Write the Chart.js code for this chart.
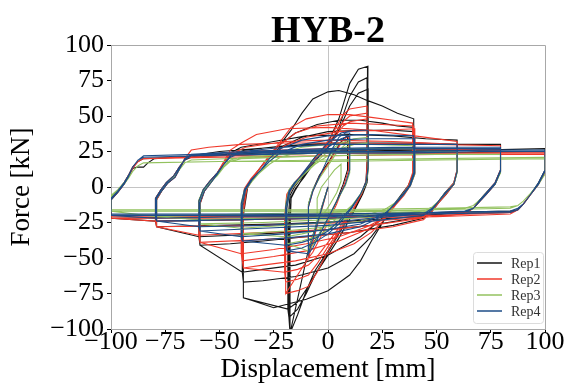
<!DOCTYPE html>
<html>
<head>
<meta charset="utf-8">
<script src="https://cdn.jsdelivr.net/npm/chart.js@4.4.1/dist/chart.umd.min.js"></script>
<style>
	html, body { margin: 0; padding: 0; background: #fff; }
	#chart { display: block; }
</style>
</head>
<body>
<canvas id="chart" width="570" height="391"></canvas>
<script>
// Axis ticks
const xTickValues = [-100, -75, -50, -25, 0, 25, 50, 75, 100];
const yTickValues = [-100, -75, -50, -25, 0, 25, 50, 75, 100];

const repNames = ["Rep1", "Rep2", "Rep3", "Rep4"];

// Rep1: one loop per line, [displacement mm, force kN]
const rep1Loops = [
	[[0,0],[-9,-44],[-9,-12],[-7,-2],[-4,8],[0,17],[4,27],[7,34],[9,36],[9,12],[7,2],[4,-10],[0,-22],[-4,-33],[-7,-40],[-9,-44]],
	[[-17.5,-103],[-17.5,-30],[-17,-8],[-15,-2],[-11,8],[-7,19],[0,31],[5,48],[10,73],[14,83],[18.4,85],[18.4,20],[18,5],[16,-3],[11.5,-17],[5.5,-31],[0,-45],[-6,-59],[-10,-73],[-14,-90],[-17.5,-103]],
	[[-18,-92],[-18,-28],[-17,-7],[-15,-1],[-11,7],[-6,18],[0,28],[5,42],[10,64],[14,74],[18,77],[18,18],[17.5,4],[15.5,-4],[11,-18],[5,-33],[0,-46],[-6,-62],[-10,-75],[-14,-86],[-18,-92]],
	[[-18.5,-86],[-18.5,-25],[-17.5,-6],[-15.5,0],[-11,9],[-6,19],[0,28],[5,40],[10,57],[14,66],[18.5,69],[18.5,16],[18,3],[16,-5],[11,-20],[5,-36],[0,-48],[-6,-62],[-10,-72],[-14,-81],[-18.5,-86]],
	[[-39,-78],[-39,-20],[-37,0],[-32,12],[-27,22],[-22,30],[-17,40],[-12,52],[-7,62],[0,67],[5,68],[12,65],[18,61],[25,57],[32,52],[39.5,48],[39.5,10],[37,1],[34,-5],[30,-13],[26,-23],[20,-38],[15,-52],[10,-62],[0,-73],[-10,-79],[-25,-85],[-35,-80],[-39,-78]],
	[[-39,-67],[-39,-18],[-37,0],[-32,12],[-27,22],[-22,30],[-15,38],[-5,44],[5,47],[15,47],[25,45],[32,43],[39.5,42],[39.5,8],[37,1],[34,-5],[30,-13],[26,-23],[20,-35],[12,-47],[0,-57],[-15,-63],[-30,-66],[-39,-67]],
	[[-39.5,-60],[-39.5,-16],[-37.5,0],[-33,10],[-28,20],[-22,28],[-12,35],[0,39],[15,40],[30,40],[39.5,39],[39.5,8],[37,1],[34,-5],[30,-13],[25,-22],[15,-35],[0,-48],[-15,-55],[-30,-58],[-39.5,-60]],
	[[-59,-41],[-59,-12],[-57,-3],[-54,3],[-51,9],[-48,17],[-45,24],[-40,28],[-25,32],[-10,36],[10,37],[30,36],[45,34],[59.5,33],[59.5,12],[58,3],[54,-4],[51,-10],[48,-17],[44,-22],[30,-27],[10,-32],[-10,-35],[-30,-38],[-45,-40],[-59,-41]],
	[[-59.5,-35],[-59.5,-10],[-57.5,-2],[-54.5,4],[-51,10],[-48,17],[-44,23],[-38,26],[-20,29],[0,31],[20,31],[40,31],[59.5,30],[59.5,11],[58,2],[54.5,-5],[51,-11],[48,-17],[43,-21],[20,-27],[0,-30],[-30,-33],[-59.5,-35]],
	[[-79,-28],[-79,-9],[-76.5,-2.5],[-74,2.5],[-70.5,7],[-68,14],[-66,19],[-63,22],[-50,25],[-25,28],[0,30],[30,30],[60,30],[79.5,30],[79.5,12],[77,3],[73,-4],[70,-9],[67,-15],[63,-18],[40,-21],[10,-24],[-20,-26],[-50,-27],[-79,-28]],
	[[-79.5,-24],[-79.5,-8],[-77,-2],[-74.5,3],[-71,8],[-68.5,14],[-66,19],[-63,21],[-40,24],[0,26],[40,27],[79.5,27],[79.5,11],[77,2],[73,-5],[70,-10],[67,-15],[63,-18],[30,-20],[0,-22],[-40,-23],[-79.5,-24]],
	[[-100,-22],[-100,-9],[-97,-4],[-94,2],[-92,7],[-90,13],[-88,14],[-85,14],[-83,17],[-80,20],[-60,22],[-30,24],[0,25],[40,26],[70,26],[100,27],[100,12],[97,3],[93,-6],[90,-12],[87.5,-16],[84,-18],[50,-19],[0,-21],[-50,-21],[-100,-22]],
	[[-100,-20],[-100,-8],[-97,-3],[-94,3],[-92,8],[-90,14],[-87.5,18],[-85,20],[-50,22],[0,24],[50,24],[100,25],[100,11],[97,2],[93,-6],[90,-12],[87.5,-16],[84,-17],[50,-18],[0,-19],[-50,-20],[-100,-20]],
];

const rep2Loops = [
	[[0,0],[-9,-50],[-9,-14],[-7,-3],[-4,7],[0,16],[4,26],[7,33],[9.5,36],[9.5,12],[7.5,2],[4,-12],[0,-25],[-4,-37],[-7,-46],[-9,-50]],
	[[-19.5,-75],[-19.5,-25],[-18.5,-6],[-16,0],[-12,8],[-7,18],[-2,28],[3,40],[7,51],[10,55],[14,56],[18,57],[18,16],[17.5,3],[15.5,-5],[11,-18],[5,-32],[0,-45],[-5,-60],[-9,-70],[-14,-73],[-19.5,-75]],
	[[-19.5,-67],[-19.5,-22],[-18.5,-5],[-16,1],[-12,9],[-7,18],[-2,27],[3,37],[7,46],[10,50],[14,51],[18,52],[18,15],[17.5,3],[15.5,-5],[11,-18],[5,-31],[0,-42],[-5,-54],[-9,-62],[-14,-65],[-19.5,-67]],
	[[-20,-60],[-20,-20],[-19,-5],[-16.5,1],[-12,9],[-7,17],[-2,26],[3,35],[7,43],[10,46],[14,47],[18,48],[18,14],[17.5,3],[15.5,-5],[11,-17],[5,-29],[0,-39],[-5,-49],[-9,-55],[-14,-58],[-20,-60]],
	[[-39,-57],[-39,-18],[-37.5,-2],[-35,5],[-31,14],[-27,22],[-22,32],[-17,42],[-10,48],[0,51],[10,51],[20,49],[30,47],[39,45],[39,10],[37,1],[34,-6],[30,-14],[26,-23],[20,-32],[12,-40],[0,-47],[-15,-52],[-30,-55],[-39,-57]],
	[[-39.5,-52],[-39.5,-16],[-38,-1],[-35,6],[-31,14],[-27,22],[-22,30],[-15,38],[-5,43],[10,45],[25,44],[39.5,43],[39.5,9],[37.5,1],[34.5,-6],[30.5,-14],[26,-22],[18,-30],[5,-38],[-10,-45],[-25,-49],[-39.5,-52]],
	[[-40,-47],[-40,-15],[-38.5,-1],[-35.5,6],[-31.5,13],[-27,21],[-20,29],[-10,35],[5,39],[25,40],[40,41],[40,9],[38,1],[35,-6],[31,-13],[27,-21],[18,-28],[5,-35],[-10,-40],[-25,-44],[-40,-47]],
	[[-59,-39],[-59,-12],[-57,-3],[-54,3],[-51,10],[-48,18],[-45,26],[-40,31],[-33,37],[-19,41],[0,42],[20,40],[40,36],[59.5,32],[59.5,12],[58,3],[54,-4],[51,-10],[48,-17],[44,-23],[30,-28],[10,-32],[-10,-35],[-30,-37],[-59,-39]],
	[[-59.5,-34],[-59.5,-10],[-57.5,-2],[-54.5,4],[-51,10],[-48,17],[-45,23],[-38,28],[-20,32],[0,33],[30,32],[59.5,30],[59.5,11],[58,2],[54.5,-5],[51,-11],[48,-17],[43,-22],[20,-27],[0,-30],[-30,-32],[-59.5,-34]],
	[[-79,-28],[-79,-9],[-76.5,-2.5],[-74,2.5],[-70.5,7],[-68,14],[-66,20],[-63,26],[-55,28],[-40,30],[-20,31],[10,31],[50,30],[79.5,29],[79.5,12],[77,3],[73,-4],[70,-9],[67,-15],[63,-19],[40,-22],[10,-25],[-30,-27],[-79,-28]],
	[[-79.5,-24],[-79.5,-8],[-77,-2],[-74.5,3],[-71,8],[-68.5,14],[-66,19],[-63,22],[-40,25],[0,27],[40,27],[79.5,26],[79.5,11],[77,2],[73,-5],[70,-10],[67,-15],[63,-18],[30,-20],[0,-22],[-40,-23],[-79.5,-24]],
	[[-100,-22],[-100,-9],[-97,-4],[-94,2],[-92,7],[-90,13],[-87.5,18],[-85,20],[-50,22],[0,24],[50,24],[100,24],[100,11],[97,2],[93,-6],[90,-12],[87.5,-16],[84,-19],[50,-21],[0,-22],[-50,-22],[-100,-22]],
	[[-100,-21],[-100,-8],[-97,-3],[-94,3],[-92,8],[-90,14],[-87.5,18],[-85,20],[-50,21],[0,22],[50,23],[100,23],[100,10],[97,2],[93,-6],[90,-12],[87.5,-16],[84,-18],[50,-20],[0,-21],[-50,-21],[-100,-21]],
];

const rep3Loops = [
	[[0,0],[-5,-25],[-5,-8],[-3,0],[0,6],[3,12],[6,16],[6,4],[4,-4],[1,-12],[-2,-19],[-5,-25]],
	[[-9,-45],[-9,-12],[-7,-2],[-4,6],[0,15],[4,24],[8,30],[10,32],[10,10],[8,1],[4,-10],[0,-22],[-4,-33],[-7,-41],[-9,-45]],
	[[-19,-40],[-19,-14],[-17.5,-3],[-15,2],[-11,9],[-6,17],[0,25],[6,31],[12,34],[18.5,35],[18.5,12],[17.5,2],[15,-5],[11,-14],[5,-24],[0,-30],[-6,-35],[-12,-38],[-19,-40]],
	[[-19.5,-35],[-19.5,-12],[-18,-2],[-15.5,3],[-11,9],[-6,16],[0,22],[6,27],[12,30],[18.5,31],[18.5,11],[17.5,2],[15,-5],[11,-13],[5,-21],[0,-27],[-6,-31],[-12,-33],[-19.5,-35]],
	[[-39.5,-33],[-39.5,-12],[-38,-2],[-35,4],[-31,11],[-27,18],[-22,24],[-12,28],[0,30],[20,30],[39.5,29],[39.5,9],[37.5,1],[34.5,-5],[30.5,-12],[26,-18],[15,-24],[0,-28],[-20,-31],[-39.5,-33]],
	[[-40,-29],[-40,-11],[-38.5,-2],[-35.5,4],[-31.5,10],[-27,16],[-22,21],[-12,25],[0,27],[20,27],[40,27],[40,9],[38,1],[35,-5],[31,-11],[26,-16],[15,-21],[0,-25],[-20,-27],[-40,-29]],
	[[-59,-26],[-59,-10],[-57,-2],[-54,3],[-51,9],[-48,15],[-45,19],[-40,21],[-20,23],[0,24],[30,25],[59.5,25],[59.5,10],[58,2],[54,-4],[51,-10],[48,-15],[44,-18],[20,-21],[0,-23],[-30,-25],[-59,-26]],
	[[-59.5,-23],[-59.5,-9],[-57.5,-2],[-54.5,3],[-51,8],[-48,14],[-45,18],[-40,20],[-20,21],[0,22],[30,23],[59.5,23],[59.5,10],[58,2],[54.5,-4],[51,-10],[48,-14],[44,-17],[20,-19],[0,-21],[-30,-22],[-59.5,-23]],
	[[-79,-21],[-79,-8],[-76.5,-2],[-74,3],[-70.5,8],[-68,13],[-66,17],[-63,19],[-30,21],[0,22],[40,23],[79.5,23],[79.5,10],[77,2],[73,-4],[70,-9],[67,-13],[63,-15],[30,-17],[0,-18],[-40,-19],[-79,-21]],
	[[-100,-17],[-100,-7],[-97,-3],[-94,2],[-92,6],[-90,11],[-87.5,15],[-85,17],[-50,18],[0,19],[50,20],[100,21],[100,9],[97,2],[93,-5],[90,-10],[87.5,-13],[84,-15],[50,-16],[0,-17],[-50,-17],[-100,-17]],
	[[-100,-16],[-100,-6],[-97,-2],[-94,3],[-92,7],[-90,11],[-87.5,15],[-85,17],[-50,18],[0,18],[50,19],[100,20],[100,9],[97,2],[93,-5],[90,-10],[87.5,-13],[84,-14],[50,-15],[0,-16],[-50,-16],[-100,-16]],
];

const rep4Loops = [
	[[0,0],[-9,-47],[-9,-14],[-7,-3],[-4,7],[-1,17],[2,27],[5,35],[8,38],[10,38],[10,12],[8,2],[4,-10],[0,-22],[-4,-34],[-7,-43],[-9,-47]],
	[[-19,-45],[-19,-15],[-17.5,-3],[-15,3],[-11,11],[-6,21],[0,31],[6,38],[12,40],[18.5,40],[18.5,14],[17.5,3],[15,-5],[11,-15],[5,-26],[0,-33],[-6,-39],[-12,-43],[-19,-45]],
	[[-19.5,-41],[-19.5,-14],[-18,-3],[-15.5,3],[-11,10],[-6,19],[0,28],[6,34],[12,37],[18.5,37],[18.5,13],[17.5,3],[15,-5],[11,-14],[5,-24],[0,-31],[-6,-36],[-12,-39],[-19.5,-41]],
	[[-39.5,-38],[-39.5,-13],[-38,-2],[-35,5],[-31,12],[-27,20],[-22,27],[-12,33],[0,36],[20,37],[39.5,36],[39.5,10],[37.5,1],[34.5,-5],[30.5,-12],[26,-20],[15,-28],[0,-33],[-20,-36],[-39.5,-38]],
	[[-40,-35],[-40,-12],[-38.5,-2],[-35.5,5],[-31.5,11],[-27,18],[-22,24],[-12,30],[0,33],[20,34],[40,34],[40,10],[38,1],[35,-5],[31,-12],[26,-19],[15,-26],[0,-30],[-20,-33],[-40,-35]],
	[[-59,-31],[-59,-11],[-57,-3],[-54,3],[-51,9],[-48,16],[-45,22],[-40,25],[-20,28],[0,30],[30,30],[59.5,30],[59.5,11],[58,2],[54,-4],[51,-10],[48,-16],[44,-20],[20,-24],[0,-27],[-30,-29],[-59,-31]],
	[[-59.5,-28],[-59.5,-10],[-57.5,-2],[-54.5,4],[-51,10],[-48,16],[-45,21],[-40,24],[-20,26],[0,27],[30,28],[59.5,28],[59.5,11],[58,2],[54.5,-4],[51,-10],[48,-15],[44,-19],[20,-22],[0,-25],[-30,-27],[-59.5,-28]],
	[[-79,-24],[-79,-8],[-76.5,-2.5],[-74,2.5],[-70.5,7],[-68,14],[-66,20],[-63,23],[-40,25],[0,27],[40,28],[79.5,28],[79.5,12],[77,3],[73,-4],[70,-9],[67,-15],[63,-18],[30,-20],[0,-22],[-40,-23],[-79,-24]],
	[[-79.5,-22],[-79.5,-8],[-77,-2],[-74.5,3],[-71,8],[-68.5,14],[-66,19],[-63,22],[-40,24],[0,26],[40,27],[79.5,27],[79.5,11],[77,2],[73,-5],[70,-10],[67,-15],[63,-17],[30,-19],[0,-21],[-40,-21],[-79.5,-22]],
	[[-100,-20],[-100,-9],[-97,-4],[-94,2],[-92,7],[-90,14],[-87.5,19],[-85,22],[-60,23],[-30,24],[0,25],[40,25],[70,26],[100,26],[100,12],[97,3],[93,-6],[90,-12],[87.5,-16],[84,-18],[50,-19],[0,-20],[-50,-20],[-100,-20]],
	[[-100,-19],[-100,-8],[-97,-3],[-94,3],[-92,8],[-90,14],[-87.5,19],[-85,21],[-60,22],[-30,23],[0,24],[40,24],[70,25],[100,25],[100,11],[97,2],[93,-6],[90,-12],[87.5,-15],[84,-17],[50,-18],[0,-19],[-50,-19],[-100,-19]],
];

const repColors = ["#151515", "#f0392b", "#93c25f", "#1d4c87"];

const serif = "'Liberation Serif', 'DejaVu Serif', serif";

// Turns the loops of one rep into chart points
function toPoints(loops) {
	return loops.flat().map((p) => ({ x: p[0], y: p[1] }));
}

// Uses a real minus sign for negative ticks
function tickLabel(value) {
	return value < 0 ? "\u2212" + Math.abs(value) : String(value);
}

// Title, top/right frame and the legend inside the plot
const decorations = {
	id: "decorations",
	afterDraw(chart) {
		const { ctx, chartArea } = chart;
		ctx.save();

		ctx.strokeStyle = "#a8a8a8";
		ctx.lineWidth = 1;
		ctx.beginPath();
		ctx.moveTo(chartArea.left, chartArea.top + 0.5);
		ctx.lineTo(chartArea.right + 0.5, chartArea.top + 0.5);
		ctx.lineTo(chartArea.right + 0.5, chartArea.bottom);
		ctx.stroke();

		ctx.fillStyle = "#000";
		ctx.font = "bold 38px " + serif;
		ctx.textAlign = "center";
		ctx.textBaseline = "alphabetic";
		ctx.fillText("HYB-2", (chartArea.left + chartArea.right) / 2, 42);

		const box = { x: chartArea.right - 72, y: chartArea.bottom - 77, w: 70, h: 71 };
		ctx.beginPath();
		ctx.roundRect(box.x + 0.5, box.y + 0.5, box.w, box.h, 3);
		ctx.fillStyle = "rgba(255,255,255,0.85)";
		ctx.fill();
		ctx.strokeStyle = "#dcdcdc";
		ctx.stroke();

		ctx.font = "14px " + serif;
		ctx.textAlign = "left";
		ctx.textBaseline = "middle";
		repNames.forEach((name, i) => {
			const y = box.y + 11 + i * 16;
			ctx.strokeStyle = repColors[i];
			ctx.lineWidth = 1.5;
			ctx.beginPath();
			ctx.moveTo(box.x + 4, y);
			ctx.lineTo(box.x + 29, y);
			ctx.stroke();
			ctx.fillStyle = "#333";
			ctx.fillText(name, box.x + 38, y + 1);
		});

		ctx.restore();
	},
};

const allLoops = [rep1Loops, rep2Loops, rep3Loops, rep4Loops];

const datasets = allLoops.map((loops, i) => ({
	label: repNames[i],
	data: toPoints(loops),
	showLine: true,
	borderColor: repColors[i],
	backgroundColor: repColors[i],
	borderWidth: 1.1,
	pointRadius: 0,
	tension: 0,
	fill: false,
	clip: 0,
	order: 4 - i,
}));

function axisOptions(tickValues, title, isX) {
	return {
		type: "linear",
		min: -100,
		max: 100,
		afterBuildTicks(scale) {
			scale.ticks = tickValues.map((v) => ({ value: v }));
		},
		afterFit(scale) {
			if (isX) scale.height = 62;
			else scale.width = 111;
		},
		ticks: {
			callback: tickLabel,
			color: "#000",
			font: { family: serif, size: 26 },
			padding: isX ? -6 : 3,
			autoSkip: false,
			maxRotation: 0,
		},
		grid: {
			color: (c) => (c.tick && c.tick.value === 0 ? "#c4c4c4" : "rgba(0,0,0,0)"),
			tickColor: "#000",
			tickLength: 4,
			lineWidth: 1,
		},
		border: { color: "#a8a8a8", width: 1 },
		title: {
			display: true,
			text: title,
			color: "#000",
			font: { family: serif, size: 27 },
			padding: isX ? { top: 0, bottom: 5 } : { top: 6, bottom: 0 },
		},
	};
}

new Chart(document.getElementById("chart"), {
	type: "scatter",
	data: { datasets },
	options: {
		responsive: false,
		animation: false,
		devicePixelRatio: 1,
		layout: { padding: { top: 45, right: 25, left: 0, bottom: 0 } },
		plugins: {
			legend: { display: false },
			title: { display: false },
			tooltip: { enabled: false },
		},
		scales: {
			x: axisOptions(xTickValues, "Displacement [mm]", true),
			y: axisOptions(yTickValues, "Force [kN]", false),
		},
	},
	plugins: [decorations],
});
</script>
</body>
</html>
